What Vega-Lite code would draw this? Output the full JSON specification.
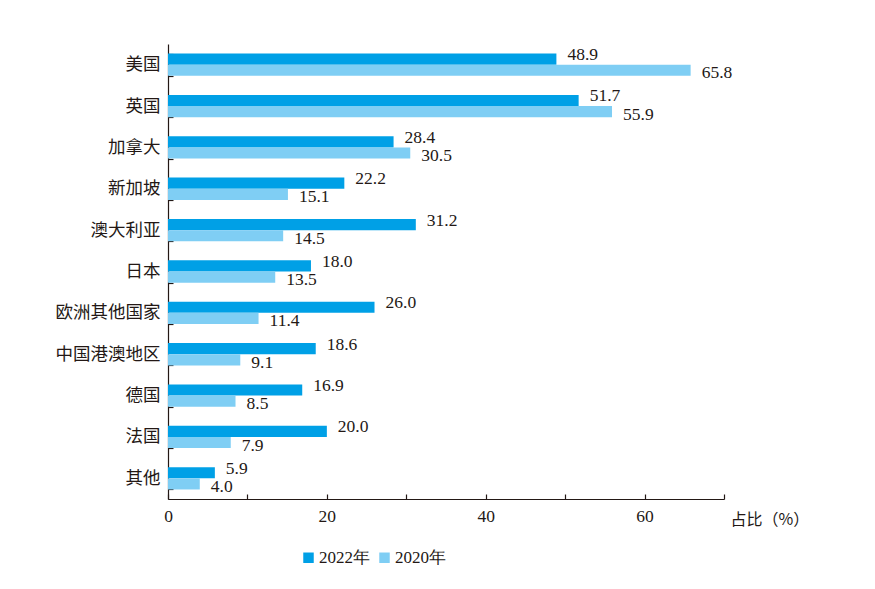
{
  "$schema": "https://vega.github.io/schema/vega-lite/v6.json",
  "width": 556,
  "height": 455,
  "autosize": {"type": "none"},
  "padding": {"left": 168, "top": 44, "right": 151, "bottom": 90},
  "background": "white",
  "config": {
    "font": "Times New Roman, Liberation Serif, DejaVu Serif, serif",
    "view": {"stroke": null},
    "axis": {"domainColor": "#231815", "tickColor": "#231815", "labelColor": "#231815", "titleColor": "#231815", "grid": false, "domainWidth": 1.2, "tickWidth": 1.2}
  },
  "data": {
    "values": [
      {"region": "美国", "year": "2022年", "value": 48.9},
      {"region": "美国", "year": "2020年", "value": 65.8},
      {"region": "英国", "year": "2022年", "value": 51.7},
      {"region": "英国", "year": "2020年", "value": 55.9},
      {"region": "加拿大", "year": "2022年", "value": 28.4},
      {"region": "加拿大", "year": "2020年", "value": 30.5},
      {"region": "新加坡", "year": "2022年", "value": 22.2},
      {"region": "新加坡", "year": "2020年", "value": 15.1},
      {"region": "澳大利亚", "year": "2022年", "value": 31.2},
      {"region": "澳大利亚", "year": "2020年", "value": 14.5},
      {"region": "日本", "year": "2022年", "value": 18.0},
      {"region": "日本", "year": "2020年", "value": 13.5},
      {"region": "欧洲其他国家", "year": "2022年", "value": 26.0},
      {"region": "欧洲其他国家", "year": "2020年", "value": 11.4},
      {"region": "中国港澳地区", "year": "2022年", "value": 18.6},
      {"region": "中国港澳地区", "year": "2020年", "value": 9.1},
      {"region": "德国", "year": "2022年", "value": 16.9},
      {"region": "德国", "year": "2020年", "value": 8.5},
      {"region": "法国", "year": "2022年", "value": 20.0},
      {"region": "法国", "year": "2020年", "value": 7.9},
      {"region": "其他", "year": "2022年", "value": 5.9},
      {"region": "其他", "year": "2020年", "value": 4.0}
    ]
  },
  "encoding": {
    "y": {
      "field": "region",
      "type": "nominal",
      "sort": null,
      "scale": {"paddingInner": 0.46, "paddingOuter": 0.23},
      "axis": {"title": null, "tickBand": "extent", "tickSize": -5, "labelPadding": 13, "labelFontSize": 17.5, "labelFont": "Noto Sans CJK SC"}
    },
    "yOffset": {"field": "year", "type": "nominal", "scale": {"domain": ["2022年", "2020年"]}}
  },
  "layer": [
    {
      "mark": {"type": "bar"},
      "encoding": {
        "x": {
          "field": "value",
          "type": "quantitative",
          "scale": {"domain": [0, 70], "nice": false},
          "axis": {"values": [0, 10, 20, 30, 40, 50, 60, 70], "labelExpr": "datum.value % 20 == 0 && datum.value < 70 ? datum.label : ''", "tickSize": -5, "labelPadding": 13, "labelFlush": false, "labelFontSize": 17.5, "title": "占比（%）", "titleFont": "Noto Sans CJK SC", "titleFontSize": 16, "titleFontWeight": "normal", "titleAngle": 0, "titleAlign": "left", "titleBaseline": "middle", "titleX": 562, "titleY": 20, "titleAnchor": null}
        },
        "color": {
          "field": "year",
          "type": "nominal",
          "scale": {"domain": ["2022年", "2020年"], "range": ["#00A0E6", "#7FCEF4"]},
          "legend": {"title": null, "orient": "none", "legendX": 132, "legendY": 505, "direction": "horizontal", "symbolType": "square", "symbolSize": 110, "symbolStrokeWidth": 0, "symbolOpacity": 1, "labelFontSize": 17, "labelOffset": 2, "columnPadding": 6, "labelColor": "#231815"}
        }
      }
    },
    {
      "transform": [{"filter": "datum.year == '2022年'"}],
      "mark": {"type": "text", "align": "left", "baseline": "middle", "dx": 11, "dy": -4, "fontSize": 17.5, "color": "#231815"},
      "encoding": {
        "x": {"field": "value", "type": "quantitative"},
        "text": {"field": "value", "type": "quantitative", "format": ".1f"}
      }
    },
    {
      "transform": [{"filter": "datum.year == '2020年'"}],
      "mark": {"type": "text", "align": "left", "baseline": "middle", "dx": 11, "dy": 3, "fontSize": 17.5, "color": "#231815"},
      "encoding": {
        "x": {"field": "value", "type": "quantitative"},
        "text": {"field": "value", "type": "quantitative", "format": ".1f"}
      }
    }
  ]
}
